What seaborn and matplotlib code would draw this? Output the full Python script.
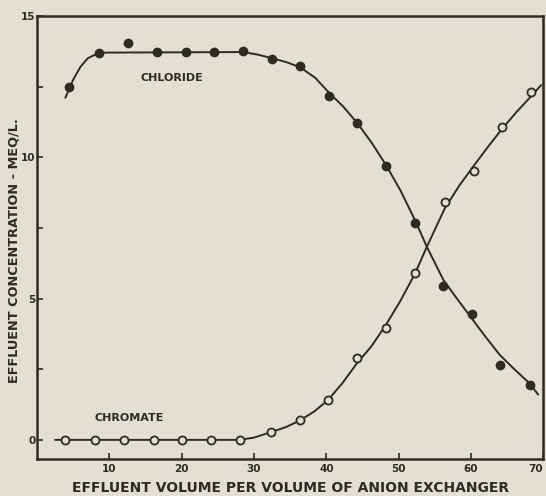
import numpy as np
import pandas as pd
import seaborn as sns
import matplotlib.pyplot as plt

chloride_x = [4.4, 8.6, 12.6, 16.6, 20.6, 24.5, 28.5, 32.5, 36.4, 40.3, 44.3, 48.3, 52.2, 56.2, 60.1, 64.0, 68.1]
chloride_y = [12.5, 13.7, 14.05, 13.73, 13.73, 13.73, 13.76, 13.49, 13.24, 12.18, 11.2, 9.68, 7.68, 5.46, 4.44, 2.64, 1.94]

chromate_x = [3.9, 8.0, 12.0, 16.1, 20.1, 24.1, 28.0, 32.4, 36.3, 40.2, 44.2, 48.2, 52.2, 56.4, 60.4, 64.3, 68.3]
chromate_y = [0, 0, 0, 0, 0, 0, 0, 0.28, 0.70, 1.41, 2.89, 3.94, 5.92, 8.42, 9.51, 11.06, 12.29]

# hand-drawn fitted curves
chloride_curve_x = [3.9, 5.0, 6.0, 7.0, 8.6, 28.5, 30.5, 32.5, 34.5, 36.4, 38.5, 40.3, 42.3, 44.3, 46.3,
                    48.3, 50.3, 52.3, 53.9, 56.2, 58.2, 60.1, 62.0, 64.0, 66.0, 68.1, 69.3]
chloride_curve_y = [12.1, 12.75, 13.2, 13.5, 13.7, 13.72, 13.63, 13.5, 13.36, 13.18, 12.8, 12.3, 11.8, 11.2, 10.5,
                    9.7, 8.8, 7.75, 6.83, 5.65, 4.95, 4.3, 3.65, 3.0, 2.5, 2.0, 1.6]

chromate_curve_x = [2.5, 28.0, 30.0, 32.4, 34.4, 36.3, 38.3, 40.2, 42.2, 44.2, 46.2, 48.2, 50.2, 52.2,
                    53.9, 56.4, 58.4, 60.4, 62.3, 64.3, 66.3, 68.3, 69.7]
chromate_curve_y = [0, 0, 0.08, 0.28, 0.45, 0.68, 1.0, 1.4, 2.0, 2.7, 3.3, 4.05, 4.9, 5.85,
                    6.83, 8.2, 9.0, 9.7, 10.35, 11.0, 11.6, 12.15, 12.55]

x_ticks = [10, 20, 30, 40, 50, 60, 70]
y_ticks = [0, 5, 10, 15]

paper = "#e2e0d2"
ink = "#2d2b27"

sns.set_style("ticks")
plt.rcParams["font.family"] = ["DejaVu Sans"]
plt.rcParams["font.weight"] = "bold"

fig = plt.figure(figsize=(5.46, 4.96), dpi=100, facecolor=paper)
ax = fig.add_axes([0.068, 0.075, 0.927, 0.893])
ax.set_facecolor(paper)

sns.lineplot(x=chloride_curve_x, y=chloride_curve_y, sort=False, color=ink, linewidth=1.4, ax=ax)
sns.lineplot(x=chromate_curve_x, y=chromate_curve_y, sort=False, color=ink, linewidth=1.4, ax=ax)

ax.plot(chloride_x, chloride_y, linestyle="none", marker="o", markersize=6,
        markerfacecolor=ink, markeredgecolor=ink)
ax.plot(chromate_x, chromate_y, linestyle="none", marker="o", markersize=5.8,
        markerfacecolor=paper, markeredgecolor=ink, markeredgewidth=1.3)

ax.set_xlim(0, 70)
ax.set_ylim(-0.67, 15)
ax.set_xticks(x_ticks)
ax.set_yticks(y_ticks)
ax.set_yticks([2.5, 7.5, 12.5], minor=True)
ax.tick_params(axis="both", which="both", direction="in", length=4, width=1.2, color=ink,
               labelsize=7.5, labelcolor=ink)
ax.tick_params(axis="y", pad=1)
ax.tick_params(axis="x", pad=4)
ax.get_xticklabels()[-1].set_horizontalalignment("right")

for side in ["left", "right", "top", "bottom"]:
    ax.spines[side].set_visible(True)
    ax.spines[side].set_color(ink)
    ax.spines[side].set_linewidth(1.8)

ax.text(18.7, 12.8, "CHLORIDE", fontsize=8, fontweight="bold", color=ink, ha="center", va="center")
ax.text(12.7, 0.77, "CHROMATE", fontsize=8, fontweight="bold", color=ink, ha="center", va="center")

ax.set_xlabel("EFFLUENT VOLUME PER VOLUME OF ANION EXCHANGER", fontsize=10, fontweight="bold",
              color=ink)
ax.xaxis.set_label_coords(0.5, -0.05)
ax.set_ylabel("EFFLUENT CONCENTRATION - MEQ/L.", fontsize=9.3, fontweight="bold", color=ink)
ax.yaxis.set_label_coords(-0.033, 0.47)

fig.savefig("out.png", dpi=100, facecolor=paper)
